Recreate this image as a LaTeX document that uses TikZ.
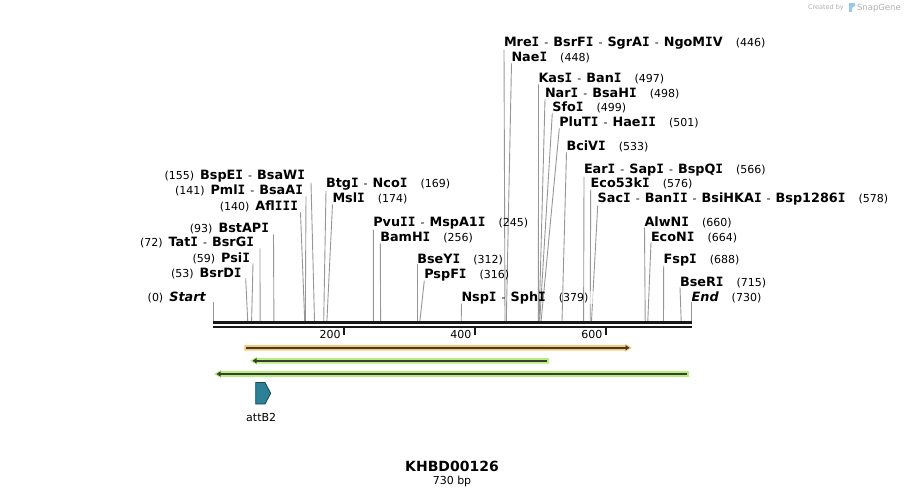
\documentclass[tikz,border=0pt]{standalone}
\usepackage{fontspec}
\setmainfont{DejaVu Sans}
\newfontfamily\monofam{DejaVu Sans Mono}
\usetikzlibrary{arrows.meta}
\pgfdeclarelayer{bg}
\pgfsetlayers{bg,main}
\definecolor{cutc}{RGB}{150,150,150}
\definecolor{rulerc}{RGB}{25,25,25}
\definecolor{orbar}{RGB}{250,200,112}
\definecolor{grbar}{RGB}{182,240,122}
\definecolor{innerc}{RGB}{60,60,60}
\definecolor{attfill}{RGB}{46,128,150}
\definecolor{attedge}{RGB}{28,70,82}
\definecolor{sgc}{RGB}{175,175,175}
\definecolor{sgblue}{RGB}{150,200,235}
\newcommand{\iI}{{\monofam I}}
\newcommand{\dsh}{\hspace{5pt}{\fontsize{11}{13}\selectfont\mdseries -}\hspace{5pt}}
\newcommand{\bnm}[1]{{\fontsize{12.8}{15}\selectfont\bfseries #1}}
\newcommand{\rlab}[2]{\bnm{#1}\hspace{13pt}(#2)}
\newcommand{\llab}[2]{(#2)\hspace{6pt}\bnm{#1}}
\begin{document}
\begin{tikzpicture}[x=1pt,y=-1pt,
  every node/.style={inner sep=0pt, outer sep=0pt, font=\fontsize{11}{13}\selectfont},
  rl/.style={anchor=base west},
  ll/.style={anchor=base east},
  cut/.style={draw=cutc, line width=0.9pt},
  rulerline/.style={draw=rulerc, line width=2.4pt},
  tickmark/.style={draw=rulerc, line width=1.5pt},
  ticklab/.style={anchor=base east},
  inner/.style={draw=innerc, line width=1.6pt}]
\useasboundingbox (0,0) rectangle (905,497);

% site coordinates on the ruler top
\coordinate (s0) at (213.0,321);
\coordinate (s53) at (247.7,321);
\coordinate (s59) at (251.6,321);
\coordinate (s72) at (260.1,321);
\coordinate (s93) at (273.9,321);
\coordinate (s140) at (304.7,321);
\coordinate (s141) at (305.3,321);
\coordinate (s155) at (314.5,321);
\coordinate (s169) at (323.7,321);
\coordinate (s174) at (326.9,321);
\coordinate (s245) at (373.4,321);
\coordinate (s256) at (380.6,321);
\coordinate (s312) at (417.3,321);
\coordinate (s316) at (419.9,321);
\coordinate (s379) at (461.2,321);
\coordinate (s446) at (505.0,321);
\coordinate (s448) at (506.3,321);
\coordinate (s497) at (538.4,321);
\coordinate (s498) at (539.1,321);
\coordinate (s499) at (539.7,321);
\coordinate (s501) at (541.1,321);
\coordinate (s533) at (562.0,321);
\coordinate (s566) at (583.6,321);
\coordinate (s576) at (590.2,321);
\coordinate (s578) at (591.5,321);
\coordinate (s660) at (645.2,321);
\coordinate (s664) at (647.8,321);
\coordinate (s688) at (663.5,321);
\coordinate (s715) at (681.2,321);
\coordinate (s730) at (691.0,321);

% right-side labels
\path
 node[rl] (btg) at (326,188) {\rlab{Btg\iI\dsh Nco\iI}{169}}
 node[rl] (msl) at (332.5,203) {\rlab{Msl\iI}{174}}
 node[rl] (pvu) at (373.3,227) {\rlab{Pvu\iI\iI\dsh MspA1\iI}{245}}
 node[rl] (bam) at (380.3,242) {\rlab{BamH\iI}{256}}
 node[rl] (bsey) at (417.3,263) {\rlab{BseY\iI}{312}}
 node[rl] (psp) at (424.3,278) {\rlab{PspF\iI}{316}}
 node[rl] (nsp) at (461.5,301) {\rlab{Nsp\iI\dsh Sph\iI}{379}}
 node[rl] (mre) at (504,47) {\rlab{Mre\iI\dsh BsrF\iI\dsh SgrA\iI\dsh NgoM\iI V}{446}}
 node[rl] (nae) at (511.5,62) {\rlab{Nae\iI}{448}}
 node[rl] (kas) at (538.5,83) {\rlab{Kas\iI\dsh Ban\iI}{497}}
 node[rl] (nar) at (545,98) {\rlab{Nar\iI\dsh BsaH\iI}{498}}
 node[rl] (sfo) at (552.3,112) {\rlab{Sfo\iI}{499}}
 node[rl] (plu) at (559.3,127) {\rlab{PluT\iI\dsh Hae\iI\iI}{501}}
 node[rl] (bci) at (566.5,151) {\rlab{BciV\iI}{533}}
 node[rl] (ear) at (584,174) {\rlab{Ear\iI\dsh Sap\iI\dsh BspQ\iI}{566}}
 node[rl] (ecok) at (590.7,188) {\rlab{Eco53k\iI}{576}}
 node[rl] (sac) at (597.7,203) {\rlab{Sac\iI\dsh Ban\iI\iI\dsh BsiHKA\iI\dsh Bsp1286\iI}{578}}
 node[rl] (alw) at (644.5,226) {\rlab{AlwN\iI}{660}}
 node[rl] (econ) at (651,241) {\rlab{EcoN\iI}{664}}
 node[rl] (fsp) at (663.7,263) {\rlab{Fsp\iI}{688}}
 node[rl] (bser) at (680,286) {\rlab{BseR\iI}{715}}
 node[rl] (endl) at (691.7,301) {\rlab{\itshape End}{730}};

% left-side labels
\path
 node[ll] (bspe) at (305,180) {\llab{BspE\iI\dsh BsaW\iI}{155}}
 node[ll] (pml) at (303,195) {\llab{Pml\iI\dsh BsaA\iI}{141}}
 node[ll] (afl) at (298,211) {\llab{Afl\iI\iI\iI}{140}}
 node[ll] (bsta) at (269,233) {\llab{BstAP\iI}{93}}
 node[ll] (tat) at (254,247) {\llab{Tat\iI\dsh BsrG\iI}{72}}
 node[ll] (psi) at (250,262) {\llab{Psi\iI}{59}}
 node[ll] (bsrd) at (241.7,277) {\llab{BsrD\iI}{53}}
 node[ll] (startl) at (205.7,301) {\llab{\itshape Start}{0}};

% cut-site lines
\begin{pgfonlayer}{bg}
\draw[cut] (s0 |- startl.south) -- (s0);
\draw[cut] ([xshift=4pt]bsrd.south east) -- (s53);
\draw[cut] ([xshift=3pt]psi.south east) -- (s59);
\draw[cut] ([xshift=6pt]tat.south east) -- (s72);
\draw[cut] ([xshift=4.5pt]bsta.south east) -- (s93);
\draw[cut] ([xshift=2.5pt]afl.south east) -- (s140);
\draw[cut] ([xshift=3pt]pml.south east) -- (s141);
\draw[cut] ([xshift=6pt]bspe.south east) -- (s155);
\draw[cut] (btg.south west) -- (s169);
\draw[cut] (msl.south west) -- (s174);
\draw[cut] (pvu.south west) -- (s245);
\draw[cut] (bam.south west) -- (s256);
\draw[cut] (bsey.south west) -- (s312);
\draw[cut] (psp.south west) -- (s316);
\draw[cut] (nsp.south west) -- (s379);
\draw[cut] (mre.south west) -- (s446);
\draw[cut] (nae.south west) -- (s448);
\draw[cut] (kas.south west) -- (s497);
\draw[cut] (nar.south west) -- (s498);
\draw[cut] (sfo.south west) -- (s499);
\draw[cut] (plu.south west) -- (s501);
\draw[cut] (bci.south west) -- (s533);
\draw[cut] (ear.south west) -- (s566);
\draw[cut] (ecok.south west) -- (s576);
\draw[cut] (sac.south west) -- (s578);
\draw[cut] (alw.south west) -- (s660);
\draw[cut] (econ.south west) -- (s664);
\draw[cut] (fsp.south west) -- (s688);
\draw[cut] (bser.south west) -- (s715);
\draw[cut] (s730 |- endl.south) -- (s730);
\end{pgfonlayer}
% faint white margin right of the (379) label
\fill[white, opacity=0.6] ([xshift=0.5pt]nsp.south east) rectangle ([xshift=6pt]nsp.north east);

% ruler
\draw[rulerline] (212.7,322.4) -- (691.7,322.4);
\draw[rulerline] (212.7,326.7) -- (691.7,326.7);
\draw[tickmark] (344,327) -- (344,334.5);
\draw[tickmark] (474.9,327) -- (474.9,334.5);
\draw[tickmark] (605.9,327) -- (605.9,334.5);
\node[ticklab] (t200) at (340.5,338.5) {200};
\node[ticklab] (t400) at (471.4,338.5) {400};
\node[ticklab] (t600) at (602.4,338.5) {600};

% features
\fill[orbar] (244.3,345) -- (625,345) -- (625,343.8) -- (632,347.8) -- (625,351.8) -- (625,350.6) -- (244.3,350.6) -- cycle;
\draw[inner, -{Triangle[length=4pt,width=5pt]}] (246,347.8) -- (629.5,347.8);

\fill[grbar] (549,358) -- (257,358) -- (257,356.8) -- (250,360.8) -- (257,364.8) -- (257,363.6) -- (549,363.6) -- cycle;
\draw[inner, -{Triangle[length=4pt,width=5pt]}] (547.3,360.8) -- (252.5,360.8);

\fill[grbar] (689,371.2) -- (221,371.2) -- (221,370) -- (214,374) -- (221,378) -- (221,376.8) -- (689,376.8) -- cycle;
\draw[inner, -{Triangle[length=4pt,width=5pt]}] (687.3,374) -- (216.5,374);

% attB2
\draw[fill=attfill, draw=attedge, line width=0.8pt, line join=miter]
  (255.7,382.5) -- (265,382.5) -- (270.7,393.3) -- (265,404) -- (255.7,404) -- cycle;
\node[anchor=base] (attb2) at (261.2,421) {attB2};

% title
\node[anchor=base, font=\fontsize{14}{16}\selectfont\bfseries] (title) at (452,471) {KHBD00126};
\node[anchor=base] (len) at (452,484.5) {730 bp};

% watermark
\node[anchor=base west, text=sgc, font=\fontsize{6.5}{7}\selectfont] (cb) at (808,10) {Created by};
\fill[sgblue] (848.5,3) rectangle (851.5,12.5);
\fill[sgblue] (851.5,3) -- (854.5,3) -- (855.5,5) -- (851.5,8.5) -- cycle;
\node[anchor=base west, text=sgc, font=\fontsize{8.5}{9}\selectfont] (sg) at (857,11) {SnapGene};
\end{tikzpicture}
\end{document}
